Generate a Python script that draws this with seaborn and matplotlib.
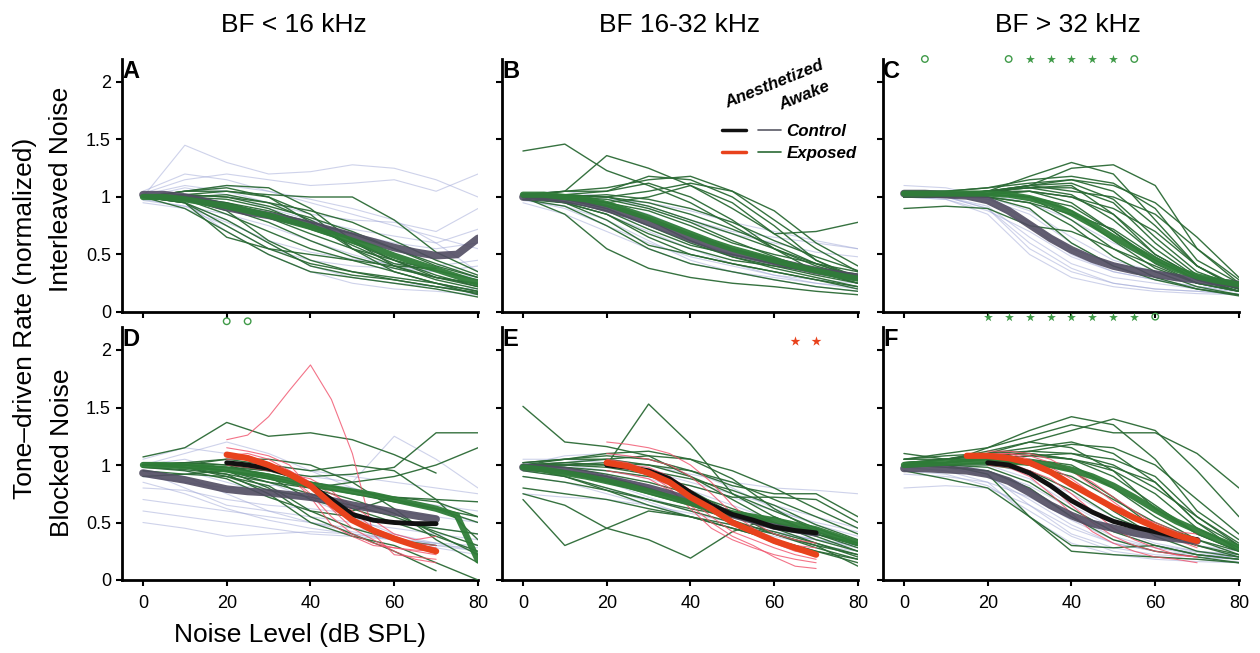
import numpy as np
import pandas as pd
import matplotlib
matplotlib.use("Agg")
import matplotlib.pyplot as plt
import seaborn as sns
from matplotlib.lines import Line2D
from matplotlib.legend_handler import HandlerTuple

nan = np.nan

# ---------------------------------------------------------------- levels (dB SPL)
LEVELS_10 = [0, 10, 20, 30, 40, 50, 60, 70, 80]          # single units, awake
LEVELS_5 = list(range(0, 85, 5))                          # population means
ANES_LEVELS = list(range(20, 75, 5))                      # anesthetized units / means
F_ANES_EXP_LEVELS = list(range(15, 75, 5))

COLUMN_TITLES = ["BF < 16 kHz", "BF 16-32 kHz", "BF > 32 kHz"]
ROW_TITLES = ["Interleaved Noise", "Blocked Noise"]
PANEL_LETTERS = ["A", "B", "C", "D", "E", "F"]
X_TICKS = [0, 20, 40, 60, 80]
Y_TICKS = [0, 0.5, 1, 1.5, 2]
Y_TICK_LABELS = ["0", "0.5", "1", "1.5", "2"]

# ---------------------------------------------------------------- panel A
A_awake_ctrl = [
    [1.00, 1.02, 0.95, 0.85, 0.75, 0.68, 0.60, 0.55, 0.60],
    [1.05, 1.20, 1.15, 1.05, 0.95, 0.85, 0.75, 0.65, 0.55],
    [1.00, 1.45, 1.30, 1.20, 1.22, 1.28, 1.25, 1.15, 1.00],
    [0.95, 0.90, 0.75, 0.55, 0.45, 0.40, 0.38, 0.35, 0.40],
    [1.00, 0.95, 0.80, 0.60, 0.40, 0.30, 0.25, 0.22, 0.20],
    [1.02, 1.10, 1.05, 0.95, 0.85, 0.80, 0.78, 0.70, 0.90],
    [0.97, 0.92, 0.85, 0.75, 0.62, 0.50, 0.40, 0.35, 0.30],
    [1.00, 1.05, 1.10, 1.05, 0.98, 0.90, 0.80, 0.60, 0.35],
    [1.00, 0.95, 0.70, 0.50, 0.35, 0.25, 0.20, 0.18, 0.15],
    [1.03, 1.15, 1.20, 1.15, 1.10, 1.12, 1.15, 1.05, 1.20],
    [0.98, 0.92, 0.78, 0.62, 0.52, 0.46, 0.42, 0.40, 0.45],
    [1.00, 1.08, 1.02, 0.90, 0.80, 0.72, 0.66, 0.60, 0.72],
]
A_awake_exp = [
    [1.00, 1.02, 1.05, 1.02, 1.00, 1.00, 0.80, 0.52, 0.35],
    [1.00, 1.00, 0.95, 0.85, 0.72, 0.60, 0.45, 0.32, 0.22],
    [1.00, 0.98, 0.88, 0.62, 0.45, 0.35, 0.30, 0.25, 0.18],
    [1.00, 1.05, 1.10, 1.08, 0.90, 0.62, 0.40, 0.28, 0.20],
    [1.00, 0.95, 0.65, 0.55, 0.50, 0.45, 0.40, 0.38, nan],
    [1.00, 0.98, 0.85, 0.70, 0.55, 0.45, 0.35, 0.25, 0.15],
    [1.00, 1.00, 1.02, 0.95, 0.80, 0.62, 0.45, 0.30, 0.22],
    [1.00, 0.90, 0.70, 0.50, 0.35, 0.30, 0.25, 0.20, 0.13],
    [1.00, 1.02, 1.00, 0.92, 0.82, 0.70, 0.55, 0.40, 0.30],
    [1.00, 1.05, 1.05, 1.00, 0.85, 0.55, 0.35, 0.25, 0.18],
    [1.00, 0.95, 0.80, 0.60, 0.40, 0.32, 0.28, 0.22, 0.17],
    [1.00, 1.00, 0.95, 0.88, 0.78, 0.68, 0.55, 0.42, 0.30],
    [1.00, 1.00, 0.98, 0.90, 0.75, 0.58, 0.42, 0.36, nan],
    [1.00, 0.97, 0.90, 0.78, 0.62, 0.48, 0.38, 0.30, 0.25],
    [1.00, 1.02, 1.00, 0.95, 0.88, 0.78, 0.62, 0.45, 0.32],
    [1.00, 0.95, 0.75, 0.55, 0.42, 0.35, 0.28, 0.22, 0.16],
    [1.00, 1.05, 1.08, 1.00, 0.78, 0.55, 0.40, 0.30, 0.24],
    [1.00, 0.98, 0.92, 0.82, 0.68, 0.55, 0.45, 0.36, 0.28],
]
A_awake_ctrl_mean = [1.02, 1.02, 1.00, 0.96, 0.91, 0.87, 0.84, 0.80, 0.76,
                     0.71, 0.66, 0.61, 0.56, 0.52, 0.49, 0.50, 0.64]
A_awake_exp_mean = [1.00, 1.00, 0.98, 0.95, 0.92, 0.88, 0.84, 0.79, 0.74,
                    0.68, 0.62, 0.56, 0.49, 0.43, 0.37, 0.31, 0.25]

# ---------------------------------------------------------------- panel B
B_awake_ctrl = [
    [1.00, 0.98, 0.90, 0.75, 0.60, 0.48, 0.40, 0.35, 0.30],
    [1.02, 1.00, 0.95, 0.85, 0.70, 0.55, 0.45, 0.38, 0.32],
    [0.98, 0.90, 0.75, 0.60, 0.48, 0.40, 0.32, 0.28, 0.25],
    [1.00, 1.02, 1.00, 0.92, 0.80, 0.70, 0.65, 0.60, 0.55],
    [1.00, 0.95, 0.85, 0.70, 0.55, 0.42, 0.32, 0.25, 0.20],
    [1.03, 1.05, 1.00, 0.90, 0.78, 0.68, 0.60, 0.52, 0.48],
    [0.97, 0.92, 0.80, 0.62, 0.45, 0.35, 0.28, 0.22, 0.18],
    [1.00, 1.00, 0.98, 0.95, 0.88, 0.78, 0.70, 0.62, 0.55],
    [1.00, 0.96, 0.88, 0.75, 0.62, 0.50, 0.42, 0.35, 0.30],
    [0.95, 0.85, 0.70, 0.55, 0.42, 0.35, 0.30, 0.25, 0.22],
]
B_awake_exp = [
    [1.40, 1.46, 1.23, 1.10, 0.95, 0.75, 0.55, 0.40, 0.30],
    [1.00, 1.05, 1.36, 1.25, 1.10, 0.90, 0.68, 0.45, 0.30],
    [1.00, 1.00, 0.95, 1.00, 1.10, 0.95, 0.68, 0.70, 0.78],
    [1.00, 1.02, 1.05, 1.18, 1.15, 1.00, 0.75, 0.45, 0.28],
    [1.00, 0.95, 0.80, 0.58, 0.50, 0.42, 0.35, 0.28, 0.22],
    [1.00, 0.85, 0.55, 0.38, 0.30, 0.25, 0.22, 0.18, 0.15],
    [1.00, 1.00, 0.98, 0.90, 0.78, 0.62, 0.48, 0.35, 0.25],
    [1.00, 1.02, 1.00, 0.95, 0.85, 0.72, 0.58, 0.42, 0.30],
    [1.00, 0.98, 0.90, 0.75, 0.60, 0.48, 0.38, 0.30, 0.22],
    [1.02, 1.05, 1.05, 1.12, 1.00, 0.80, 0.55, 0.35, 0.25],
    [1.00, 0.95, 0.85, 0.68, 0.55, 0.45, 0.40, 0.35, 0.32],
    [1.00, 1.00, 1.00, 1.05, 1.12, 1.05, 0.88, 0.60, 0.40],
    [1.00, 0.96, 0.88, 0.72, 0.58, 0.50, 0.42, 0.35, 0.28],
    [1.00, 1.02, 0.95, 0.82, 0.68, 0.55, 0.45, 0.38, 0.33],
    [0.98, 0.92, 0.75, 0.55, 0.42, 0.35, 0.28, 0.22, 0.18],
    [1.00, 1.00, 1.02, 0.98, 0.90, 0.78, 0.62, 0.48, 0.36],
    [1.00, 1.02, 1.00, 0.92, 0.80, 0.68, 0.55, 0.42, 0.30],
    [1.02, 1.05, 1.08, 1.15, 1.18, 1.05, 0.80, 0.55, 0.35],
    [1.00, 0.98, 0.92, 0.80, 0.62, 0.48, 0.40, 0.32, 0.25],
    [1.00, 1.00, 0.95, 0.88, 0.75, 0.60, 0.50, 0.42, 0.35],
    [0.98, 0.95, 0.85, 0.65, 0.50, 0.42, 0.35, 0.28, 0.20],
]
B_awake_ctrl_mean = [1.00, 1.00, 0.98, 0.95, 0.90, 0.85, 0.78, 0.71, 0.64,
                     0.58, 0.52, 0.48, 0.44, 0.40, 0.36, 0.33, 0.30]
B_awake_exp_mean = [1.02, 1.02, 1.00, 0.98, 0.94, 0.88, 0.82, 0.75, 0.68,
                    0.61, 0.55, 0.50, 0.45, 0.40, 0.36, 0.32, 0.29]

# ---------------------------------------------------------------- panel C
C_awake_ctrl = [
    [1.00, 1.00, 0.90, 0.55, 0.35, 0.25, 0.20, 0.18, 0.15],
    [1.02, 1.02, 0.95, 0.75, 0.50, 0.35, 0.28, 0.22, 0.18],
    [1.00, 0.98, 0.85, 0.50, 0.30, 0.22, 0.18, 0.16, 0.15],
    [1.05, 1.05, 1.00, 0.88, 0.65, 0.45, 0.35, 0.28, 0.22],
    [1.00, 1.00, 0.92, 0.65, 0.42, 0.30, 0.25, 0.20, 0.18],
    [1.03, 1.02, 0.98, 0.85, 0.60, 0.40, 0.30, 0.25, 0.20],
    [1.00, 1.00, 0.90, 0.60, 0.38, 0.25, 0.20, 0.18, 0.16],
    [1.00, 1.05, 1.02, 0.95, 0.80, 0.60, 0.45, 0.32, 0.25],
    [1.00, 0.98, 0.88, 0.70, 0.48, 0.35, 0.28, 0.22, 0.20],
    [1.10, 1.08, 1.00, 0.78, 0.55, 0.42, 0.35, 0.30, 0.25],
]
C_awake_exp = [
    [0.90, 0.92, 0.90, 0.75, 0.70, 0.55, 0.40, 0.25, 0.18],
    [1.00, 1.02, 1.05, 1.18, 1.30, 1.20, 0.80, 0.40, 0.22],
    [1.00, 1.00, 1.02, 1.10, 1.25, 1.28, 1.10, 0.55, 0.25],
    [1.00, 1.02, 1.05, 1.08, 1.10, 0.85, 0.50, 0.30, 0.20],
    [1.02, 1.03, 1.05, 1.00, 0.80, 0.55, 0.35, 0.22, 0.15],
    [1.00, 1.00, 1.02, 1.05, 1.00, 0.85, 0.55, 0.30, 0.18],
    [1.05, 1.05, 1.08, 1.12, 1.15, 1.05, 0.75, 0.40, 0.20],
    [1.00, 1.02, 1.00, 0.90, 0.60, 0.40, 0.28, 0.20, 0.15],
    [1.00, 1.00, 1.05, 1.10, 1.05, 1.00, 0.85, 0.55, 0.28],
    [1.02, 1.02, 1.03, 1.05, 0.95, 0.70, 0.42, 0.25, 0.18],
    [1.00, 1.03, 1.05, 1.10, 1.12, 0.98, 0.65, 0.35, 0.22],
    [1.00, 1.00, 1.00, 0.95, 0.75, 0.48, 0.30, 0.20, 0.14],
    [1.03, 1.05, 1.08, 1.15, 1.18, 1.12, 0.90, 0.45, 0.25],
    [1.00, 1.00, 1.02, 1.00, 0.88, 0.62, 0.38, 0.25, 0.18],
    [1.00, 1.02, 1.05, 1.05, 1.00, 0.90, 0.70, 0.40, 0.20],
    [1.02, 1.02, 1.00, 0.95, 0.85, 0.72, 0.48, 0.28, 0.18],
    [1.00, 1.02, 1.05, 1.08, 1.02, 0.80, 0.50, 0.30, 0.20],
    [1.02, 1.03, 1.05, 1.10, 1.15, 1.10, 0.95, 0.65, 0.30],
    [1.00, 1.00, 1.02, 1.00, 0.92, 0.70, 0.45, 0.28, 0.18],
    [1.00, 1.02, 1.05, 1.08, 1.08, 0.95, 0.60, 0.32, 0.20],
]
C_awake_ctrl_mean = [1.03, 1.03, 1.02, 1.01, 0.97, 0.88, 0.76, 0.64, 0.54,
                     0.46, 0.40, 0.36, 0.33, 0.30, 0.28, 0.26, 0.24]
C_awake_exp_mean = [1.03, 1.03, 1.03, 1.03, 1.03, 1.02, 0.99, 0.94, 0.86,
                    0.76, 0.65, 0.55, 0.45, 0.37, 0.31, 0.27, 0.24]

# ---------------------------------------------------------------- panel D
D_awake_ctrl = [
    [1.00, 0.95, 0.85, 0.75, 0.70, 0.65, 0.60, 0.55, 0.50],
    [0.60, 0.55, 0.50, 0.45, 0.40, 0.38, 0.35, 0.30, 0.28],
    [0.50, 0.45, 0.38, 0.40, 0.42, 0.40, 0.35, 0.32, nan],
    [1.05, 1.15, 1.10, 1.00, 0.95, 0.90, 0.85, 0.80, 0.75],
    [0.95, 0.80, 0.65, 0.60, 0.55, 0.50, 0.45, 0.40, 0.35],
    [0.90, 0.85, 0.80, 0.82, 0.85, 0.80, 0.70, 0.60, 0.50],
    [1.00, 1.05, 0.95, 0.85, 0.70, 0.55, 0.40, 0.30, 0.25],
    [0.70, 0.65, 0.60, 0.55, 0.50, 0.45, 0.40, 0.32, 0.25],
    [0.95, 0.90, 0.75, 0.60, 0.50, 0.42, 0.35, 0.28, 0.22],
    [1.02, 1.00, 0.98, 0.95, 0.90, 0.85, 1.25, 1.05, 0.80],
    [0.80, 0.78, 0.70, 0.65, 0.62, 0.58, 0.50, 0.45, 0.40],
    [1.00, 1.10, 1.20, 1.10, 0.95, 0.80, 0.70, 0.65, 0.60],
    [0.85, 0.75, 0.62, 0.52, 0.45, 0.40, 0.36, 0.32, 0.30],
]
D_awake_exp = [
    [1.07, 1.15, 1.37, 1.25, 1.28, 1.22, 1.09, 0.93, nan],
    [1.00, 1.00, 0.98, 0.95, 0.90, 0.92, 0.98, 1.28, 1.28],
    [1.00, 0.98, 0.95, 0.85, 0.80, 0.85, 0.90, 1.00, 1.15],
    [1.00, 1.00, 0.95, 0.80, 0.55, 0.40, 0.25, 0.08, nan],
    [1.00, 0.98, 0.92, 0.75, 0.50, 0.38, 0.30, 0.15, 0.00],
    [1.00, 1.02, 1.00, 0.95, 0.85, 0.78, 0.72, 0.68, 0.55],
    [0.98, 0.95, 0.88, 0.72, 0.60, 0.55, 0.50, 0.45, 0.40],
    [1.00, 1.00, 1.05, 1.05, 1.00, 0.85, 0.62, 0.35, 0.15],
    [1.00, 1.02, 1.00, 0.90, 0.70, 0.60, 0.72, 0.70, 0.68],
    [1.02, 1.00, 0.95, 0.88, 0.80, 0.70, 0.58, 0.40, 0.22],
    [0.95, 0.92, 0.90, 0.82, 0.60, 0.45, 0.35, 0.30, nan],
    [1.00, 1.02, 1.05, 1.00, 0.95, 1.00, 0.95, 0.70, 0.35],
    [1.00, 0.98, 0.90, 0.78, 0.72, 0.65, 0.55, 0.42, 0.30],
    [0.90, 0.92, 0.95, 0.90, 0.82, 0.75, 0.68, 0.62, 0.50],
    [1.00, 1.00, 0.98, 0.92, 0.85, 0.78, 0.70, 0.62, 0.55],
    [0.98, 0.96, 0.92, 0.85, 0.75, 0.62, 0.50, 0.38, 0.25],
]
D_anes_exp = [
    [1.22, 1.26, 1.42, 1.65, 1.87, 1.57, 1.10, 0.40, 0.22, 0.20, 0.18],
    [1.05, 1.05, 1.00, 0.95, 0.85, 0.70, 0.55, 0.42, 0.35, 0.30, 0.28],
    [1.10, 1.08, 1.02, 0.90, 0.75, 0.55, 0.40, 0.32, 0.28, 0.25, 0.22],
    [1.00, 0.98, 0.95, 0.92, 0.88, 0.78, 0.60, 0.45, 0.38, 0.32, 0.30],
    [1.15, 1.12, 1.08, 1.00, 0.80, 0.62, 0.45, 0.35, 0.25, 0.18, 0.15],
    [1.02, 1.00, 0.98, 0.90, 0.72, 0.48, 0.38, 0.30, 0.28, 0.26, 0.25],
    [1.08, 1.10, 1.05, 0.95, 0.85, 0.75, 0.65, 0.52, 0.40, 0.35, 0.38],
]
D_awake_ctrl_mean = [0.93, 0.90, 0.87, 0.83, 0.79, 0.77, 0.76, 0.74, 0.72,
                     0.69, 0.65, 0.62, 0.59, 0.56, 0.53]
D_awake_exp_mean = [1.00, 1.00, 0.99, 0.98, 0.96, 0.93, 0.90, 0.86, 0.83,
                    0.80, 0.77, 0.74, 0.70, 0.66, 0.62, 0.56, 0.17]
D_anes_ctrl_mean = [1.02, 1.00, 0.97, 0.92, 0.82, 0.70, 0.57, 0.52, 0.50, 0.49, 0.49]
D_anes_exp_mean = [1.09, 1.06, 1.00, 0.92, 0.82, 0.66, 0.52, 0.43, 0.36, 0.30, 0.25]

# ---------------------------------------------------------------- panel E
E_awake_ctrl = [
    [1.00, 0.98, 0.92, 0.82, 0.70, 0.58, 0.48, 0.40, 0.32],
    [1.05, 1.05, 1.02, 0.95, 0.85, 0.75, 0.65, 0.55, 0.45],
    [0.95, 0.90, 0.80, 0.68, 0.55, 0.45, 0.38, 0.30, 0.25],
    [1.00, 1.02, 1.05, 1.00, 0.92, 0.85, 0.80, 0.78, 0.75],
    [0.98, 0.95, 0.85, 0.72, 0.60, 0.50, 0.42, 0.35, 0.28],
    [1.02, 1.00, 0.95, 0.88, 0.78, 0.65, 0.52, 0.42, 0.35],
    [0.90, 0.85, 0.75, 0.65, 0.55, 0.48, 0.40, 0.35, 0.30],
    [1.00, 1.08, 1.10, 1.05, 0.95, 0.80, 0.62, 0.48, 0.38],
    [0.75, 0.72, 0.70, 0.65, 0.58, 0.50, 0.42, 0.35, 0.30],
    [1.00, 0.98, 0.95, 0.90, 0.82, 0.72, 0.60, 0.50, 0.42],
]
E_awake_exp = [
    [1.51, 1.20, 1.16, 1.08, 0.90, 0.70, 0.50, 0.35, 0.25],
    [0.70, 0.30, 0.45, 0.60, 0.55, 0.45, 0.35, 0.25, 0.18],
    [1.00, 1.00, 1.00, 1.53, 1.18, 0.75, 0.55, 0.40, 0.30],
    [0.75, 0.65, 0.45, 0.35, 0.19, 0.42, 0.55, 0.40, 0.28],
    [1.00, 1.02, 1.05, 1.08, 1.05, 0.95, 0.80, 0.62, 0.45],
    [1.00, 0.98, 0.95, 0.90, 0.82, 0.72, 0.72, 0.70, 0.50],
    [0.98, 0.95, 0.90, 0.80, 0.68, 0.55, 0.45, 0.32, 0.20],
    [1.00, 1.05, 1.10, 1.12, 1.05, 0.88, 0.62, 0.42, 0.30],
    [0.95, 0.90, 0.80, 0.70, 0.62, 0.55, 0.48, 0.40, 0.32],
    [1.00, 1.00, 0.98, 0.92, 0.78, 0.58, 0.40, 0.28, 0.18],
    [0.80, 0.75, 0.70, 0.62, 0.55, 0.48, 0.40, 0.30, 0.12],
    [1.02, 1.05, 1.08, 1.05, 0.95, 0.82, 0.75, 0.75, 0.55],
    [1.00, 0.95, 0.85, 0.75, 0.65, 0.52, 0.40, 0.30, 0.22],
    [1.00, 1.02, 1.00, 0.95, 0.88, 0.78, 0.65, 0.48, 0.35],
    [0.98, 0.90, 0.78, 0.65, 0.55, 0.45, 0.35, 0.25, 0.15],
    [1.00, 1.00, 1.02, 1.00, 0.95, 0.85, 0.70, 0.55, 0.40],
    [1.00, 0.98, 0.92, 0.85, 0.75, 0.62, 0.50, 0.38, 0.25],
    [1.02, 1.05, 1.05, 1.00, 0.90, 0.75, 0.60, 0.45, 0.32],
    [0.90, 0.85, 0.78, 0.70, 0.60, 0.50, 0.42, 0.32, 0.22],
]
E_anes_exp = [
    [1.20, 1.18, 1.15, 1.10, 1.00, 0.85, 0.65, 0.50, 0.40, 0.35, 0.32],
    [1.05, 1.02, 0.95, 0.85, 0.70, 0.55, 0.42, 0.35, 0.28, 0.22, 0.18],
    [1.00, 0.98, 0.92, 0.80, 0.62, 0.45, 0.35, 0.28, 0.22, 0.18, 0.15],
    [1.10, 1.08, 1.05, 1.00, 0.90, 0.75, 0.58, 0.45, 0.35, 0.30, 0.28],
    [0.95, 0.92, 0.88, 0.78, 0.65, 0.50, 0.38, 0.30, 0.20, 0.12, 0.10],
    [1.02, 1.00, 0.98, 0.90, 0.78, 0.65, 0.52, 0.40, 0.32, 0.25, 0.22],
]
E_awake_ctrl_mean = [0.98, 0.97, 0.95, 0.92, 0.88, 0.84, 0.80, 0.75, 0.69,
                     0.63, 0.57, 0.52, 0.47, 0.44, 0.41]
E_awake_exp_mean = [0.98, 0.96, 0.93, 0.90, 0.86, 0.82, 0.77, 0.72, 0.67,
                    0.62, 0.58, 0.55, 0.52, 0.48, 0.44, 0.38, 0.32]
E_anes_ctrl_mean = [1.00, 0.98, 0.95, 0.88, 0.76, 0.65, 0.57, 0.52, 0.46, 0.43, 0.41]
E_anes_exp_mean = [1.02, 0.99, 0.93, 0.85, 0.72, 0.62, 0.50, 0.42, 0.34, 0.28, 0.22]

# ---------------------------------------------------------------- panel F
F_awake_ctrl = [
    [1.00, 1.00, 0.92, 0.65, 0.40, 0.28, 0.22, 0.20, 0.18],
    [0.98, 0.95, 0.85, 0.55, 0.32, 0.22, 0.18, 0.16, 0.15],
    [1.02, 1.02, 0.95, 0.78, 0.55, 0.38, 0.28, 0.22, 0.20],
    [0.80, 0.82, 0.80, 0.65, 0.45, 0.32, 0.25, 0.20, 0.18],
    [1.00, 1.02, 1.00, 0.88, 0.65, 0.45, 0.32, 0.25, 0.22],
    [0.95, 0.92, 0.82, 0.60, 0.38, 0.25, 0.20, 0.18, 0.16],
    [1.02, 1.05, 1.02, 0.92, 0.75, 0.55, 0.40, 0.30, 0.25],
    [1.00, 0.98, 0.90, 0.70, 0.48, 0.32, 0.25, 0.22, 0.20],
    [0.92, 0.90, 0.85, 0.72, 0.52, 0.35, 0.28, 0.24, 0.20],
    [1.00, 1.00, 0.95, 0.82, 0.62, 0.42, 0.30, 0.25, 0.22],
]
F_awake_exp = [
    [1.05, 1.10, 1.15, 1.30, 1.42, 1.35, 1.05, 0.60, 0.35],
    [1.00, 1.05, 1.10, 1.20, 1.30, 1.40, 1.30, 0.95, 0.55],
    [1.00, 1.02, 1.15, 1.25, 1.35, 1.28, 1.28, 1.10, 0.80],
    [1.00, 1.00, 0.92, 0.55, 0.25, 0.22, 0.20, 0.18, 0.15],
    [1.02, 1.05, 1.05, 1.00, 0.85, 0.60, 0.38, 0.25, 0.20],
    [1.00, 1.02, 1.08, 1.10, 1.05, 0.90, 0.65, 0.40, 0.25],
    [0.95, 0.88, 0.80, 0.55, 0.30, 0.28, 0.30, 0.22, 0.18],
    [1.05, 1.08, 1.10, 1.15, 1.20, 1.10, 0.85, 0.50, 0.30],
    [1.00, 1.00, 1.02, 1.05, 1.00, 0.80, 0.55, 0.35, 0.22],
    [1.10, 1.05, 1.05, 1.02, 0.95, 0.72, 0.45, 0.30, 0.20],
    [1.00, 1.02, 1.05, 1.12, 1.18, 1.15, 1.00, 0.70, 0.40],
    [1.00, 0.98, 0.95, 0.80, 0.55, 0.35, 0.25, 0.20, 0.15],
    [1.02, 1.02, 1.05, 1.08, 1.05, 0.95, 0.75, 0.45, 0.28],
    [1.00, 1.05, 1.12, 1.20, 1.15, 0.95, 0.62, 0.40, 0.25],
    [0.98, 1.00, 1.00, 0.95, 0.78, 0.55, 0.40, 0.30, 0.22],
    [1.00, 1.02, 1.05, 1.08, 1.10, 1.05, 0.90, 0.55, 0.30],
    [1.05, 1.05, 1.08, 1.10, 1.05, 0.98, 0.85, 0.50, 0.25],
    [1.00, 1.02, 1.05, 1.00, 0.90, 0.70, 0.50, 0.35, 0.25],
    [1.02, 1.05, 1.10, 1.12, 1.10, 1.00, 0.80, 0.55, 0.32],
    [1.00, 1.00, 0.98, 0.85, 0.62, 0.42, 0.30, 0.22, 0.18],
]
F_anes_exp = [
    [1.10, 1.10, 1.05, 0.98, 0.88, 0.75, 0.62, 0.55, 0.50, 0.42, 0.40],
    [1.05, 1.02, 0.95, 0.82, 0.65, 0.50, 0.38, 0.30, 0.25, 0.22, 0.20],
    [1.08, 1.10, 1.08, 1.02, 0.95, 0.85, 0.72, 0.60, 0.48, 0.38, 0.30],
    [1.00, 0.98, 0.90, 0.75, 0.58, 0.42, 0.32, 0.25, 0.20, 0.18, 0.15],
    [1.12, 1.12, 1.10, 1.05, 0.95, 0.82, 0.68, 0.55, 0.45, 0.35, 0.28],
    [1.02, 1.00, 0.95, 0.88, 0.75, 0.60, 0.45, 0.35, 0.28, 0.22, 0.20],
]
F_awake_ctrl_mean = [0.97, 0.97, 0.96, 0.95, 0.92, 0.86, 0.76, 0.65, 0.56,
                     0.49, 0.45, 0.41, 0.38, 0.36, 0.34]
F_awake_exp_mean = [1.00, 1.01, 1.02, 1.03, 1.03, 1.03, 1.02, 1.00, 0.96,
                    0.90, 0.82, 0.72, 0.61, 0.51, 0.43, 0.35, 0.28]
F_anes_ctrl_mean = [1.02, 1.00, 0.93, 0.82, 0.69, 0.59, 0.51, 0.46, 0.42, 0.38, 0.35]
F_anes_exp_mean = [1.08, 1.08, 1.06, 1.02, 0.94, 0.83, 0.73, 0.63, 0.54, 0.46, 0.39, 0.34]

# ---------------------------------------------------------------- significance marks
C_STAR_LEVELS = [30, 35, 40, 45, 50]
C_RING_LEVELS = [5, 25, 55]
F_STAR_LEVELS = [20, 25, 30, 35, 40, 45, 50, 55]
F_RING_LEVELS = [60]
D_RING_LEVELS = [20, 25]
E_RED_STAR_LEVELS = [65, 70]

# ---------------------------------------------------------------- styling
GREEN = "#2b6a35"
GREEN_MEAN = "#2f7d38"
LAVENDER = "#9ea6d6"
GRAY_MEAN = "#514c62"
RED = "#e8421c"
RED_THIN = "#f0506a"
BLACK = "#111111"
MARK_GREEN = "#3f9a48"

sns.set_style("ticks")
plt.rcParams["font.family"] = ["Liberation Sans", "DejaVu Sans"]
plt.rcParams["text.color"] = "black"
plt.rcParams["axes.labelcolor"] = "black"
plt.rcParams["xtick.color"] = "black"
plt.rcParams["ytick.color"] = "black"

W, H = 1260, 653
fig = plt.figure(figsize=(W / 100, H / 100), dpi=100)

AX_LEFT_PX = [122, 502, 883]
AX_BOTTOM_PX = [312, 580]
AX_W_PX, AX_H_PX = 356, 253


def long_frame(levels, rows):
    recs = []
    for u, row in enumerate(rows):
        for x, y in zip(levels, row):
            if not np.isnan(y):
                recs.append((u, x, y))
    return pd.DataFrame(recs, columns=["unit", "level", "rate"])


def draw_units(ax, levels, rows, color, lw, alpha, z):
    df = long_frame(levels, rows)
    sns.lineplot(data=df, x="level", y="rate", units="unit", estimator=None,
                 color=color, lw=lw, alpha=alpha, zorder=z, ax=ax,
                 legend=False, sort=True)


panels = [
    dict(ctrl=A_awake_ctrl, exp=A_awake_exp, ctrl_mean=A_awake_ctrl_mean,
         exp_mean=A_awake_exp_mean),
    dict(ctrl=B_awake_ctrl, exp=B_awake_exp, ctrl_mean=B_awake_ctrl_mean,
         exp_mean=B_awake_exp_mean),
    dict(ctrl=C_awake_ctrl, exp=C_awake_exp, ctrl_mean=C_awake_ctrl_mean,
         exp_mean=C_awake_exp_mean),
    dict(ctrl=D_awake_ctrl, exp=D_awake_exp, ctrl_mean=D_awake_ctrl_mean,
         exp_mean=D_awake_exp_mean, anes_exp=D_anes_exp,
         anes_ctrl_mean=D_anes_ctrl_mean, anes_exp_mean=D_anes_exp_mean,
         anes_exp_levels=ANES_LEVELS),
    dict(ctrl=E_awake_ctrl, exp=E_awake_exp, ctrl_mean=E_awake_ctrl_mean,
         exp_mean=E_awake_exp_mean, anes_exp=E_anes_exp,
         anes_ctrl_mean=E_anes_ctrl_mean, anes_exp_mean=E_anes_exp_mean,
         anes_exp_levels=ANES_LEVELS),
    dict(ctrl=F_awake_ctrl, exp=F_awake_exp, ctrl_mean=F_awake_ctrl_mean,
         exp_mean=F_awake_exp_mean, anes_exp=F_anes_exp,
         anes_ctrl_mean=F_anes_ctrl_mean, anes_exp_mean=F_anes_exp_mean,
         anes_exp_levels=F_ANES_EXP_LEVELS),
]

axes = []
for i, p in enumerate(panels):
    r, c = divmod(i, 3)
    ax = fig.add_axes([AX_LEFT_PX[c] / W, 1 - AX_BOTTOM_PX[r] / H,
                       AX_W_PX / W, AX_H_PX / H])
    axes.append(ax)

    draw_units(ax, LEVELS_10, p["ctrl"], LAVENDER, 0.8, 0.5, 2)
    draw_units(ax, LEVELS_10, p["exp"], GREEN, 1.0, 0.95, 3)
    if "anes_exp" in p:
        draw_units(ax, ANES_LEVELS, p["anes_exp"], RED_THIN, 0.8, 0.8, 3)
    draw_units(ax, LEVELS_5[:len(p["ctrl_mean"])], [p["ctrl_mean"]],
               GRAY_MEAN, 5.5, 0.9, 5)
    draw_units(ax, LEVELS_5[:len(p["exp_mean"])], [p["exp_mean"]],
               GREEN_MEAN, 4.5, 0.95, 6)
    if "anes_ctrl_mean" in p:
        draw_units(ax, ANES_LEVELS, [p["anes_ctrl_mean"]], BLACK, 3.5, 1.0, 7)
        draw_units(ax, p["anes_exp_levels"], [p["anes_exp_mean"]], RED, 4.5, 1.0, 8)

    ax.set_xlim(-5, 80)
    ax.set_ylim(0, 2.2)
    ax.set_xticks(X_TICKS)
    ax.set_yticks(Y_TICKS)
    ax.set_xlabel("")
    ax.set_ylabel("")
    if r == 1:
        ax.set_xticklabels([str(t) for t in X_TICKS])
    else:
        ax.set_xticklabels([])
    if c == 0:
        ax.set_yticklabels(Y_TICK_LABELS)
    else:
        ax.set_yticklabels([])
    sns.despine(ax=ax)
    for s in ("left", "bottom"):
        ax.spines[s].set_linewidth(2.0)
        ax.spines[s].set_color("black")
    ax.tick_params(axis="both", direction="out", length=4, width=1.5,
                   labelsize=13, colors="black")
    ax.tick_params(axis="x", pad=7)
    ax.tick_params(axis="y", pad=4)
    ax.set_facecolor("white")
    ax.text(0.0, 0.995, PANEL_LETTERS[i], transform=ax.transAxes,
            ha="left", va="top", fontsize=17, fontweight="bold",
            color="black", zorder=10)


def marks(ax, levels, y, marker, color, size, filled=True):
    ys = [y] * len(levels)
    if filled:
        ax.scatter(levels, ys, marker=marker, s=size, color=color,
                   clip_on=False, zorder=12, linewidths=0)
    else:
        ax.scatter(levels, ys, marker=marker, s=size, facecolors="none",
                   edgecolors=color, clip_on=False, zorder=12, linewidths=1.0)


marks(axes[2], C_STAR_LEVELS, 2.2, "*", MARK_GREEN, 45)
marks(axes[2], C_RING_LEVELS, 2.2, "o", MARK_GREEN, 22, filled=False)
marks(axes[5], F_STAR_LEVELS, 2.29, "*", MARK_GREEN, 45)
marks(axes[5], F_RING_LEVELS, 2.29, "o", MARK_GREEN, 22, filled=False)
marks(axes[3], D_RING_LEVELS, 2.25, "o", MARK_GREEN, 22, filled=False)
marks(axes[4], E_RED_STAR_LEVELS, 2.08, "*", RED, 55)

# legend in panel B
axB = axes[1]
h_black = Line2D([], [], color=BLACK, lw=2.5)
h_gray = Line2D([], [], color="#5a5a66", lw=1.2)
h_red = Line2D([], [], color=RED, lw=2.5)
h_green = Line2D([], [], color=GREEN, lw=1.2)
axB.legend([(h_black, h_gray), (h_red, h_green)], ["Control", "Exposed"],
           handler_map={tuple: HandlerTuple(ndivide=None, pad=0.7)},
           handlelength=3.5, handletextpad=0.3, labelspacing=0.45,
           frameon=False, loc="upper left", bbox_to_anchor=(0.618, 0.745),
           borderaxespad=0, borderpad=0,
           prop=dict(weight="bold", style="italic", size=12.2))
axB.text(0.765, 0.9, "Anesthetized", transform=axB.transAxes, rotation=22,
         ha="center", va="center", fontsize=12.2, fontweight="bold",
         fontstyle="italic")
axB.text(0.85, 0.855, "Awake", transform=axB.transAxes, rotation=22,
         ha="center", va="center", fontsize=12.2, fontweight="bold",
         fontstyle="italic")

# column and row titles
for x_px, t in zip([294, 680, 1068], COLUMN_TITLES):
    fig.text(x_px / W, 1 - 25 / H, t, ha="center", va="center", fontsize=19)
fig.text(25 / W, 1 - 318 / H, "Tone\u2013driven Rate (normalized)",
         rotation=90, ha="center", va="center", fontsize=19)
fig.text(61 / W, 1 - 189 / H, ROW_TITLES[0], rotation=90,
         ha="center", va="center", fontsize=19)
fig.text(62 / W, 1 - 453 / H, ROW_TITLES[1], rotation=90,
         ha="center", va="center", fontsize=19)
fig.text(300 / W, 1 - 635 / H, "Noise Level (dB SPL)", ha="center",
         va="center", fontsize=19)

fig.savefig("out.png", dpi=100, facecolor="white")
